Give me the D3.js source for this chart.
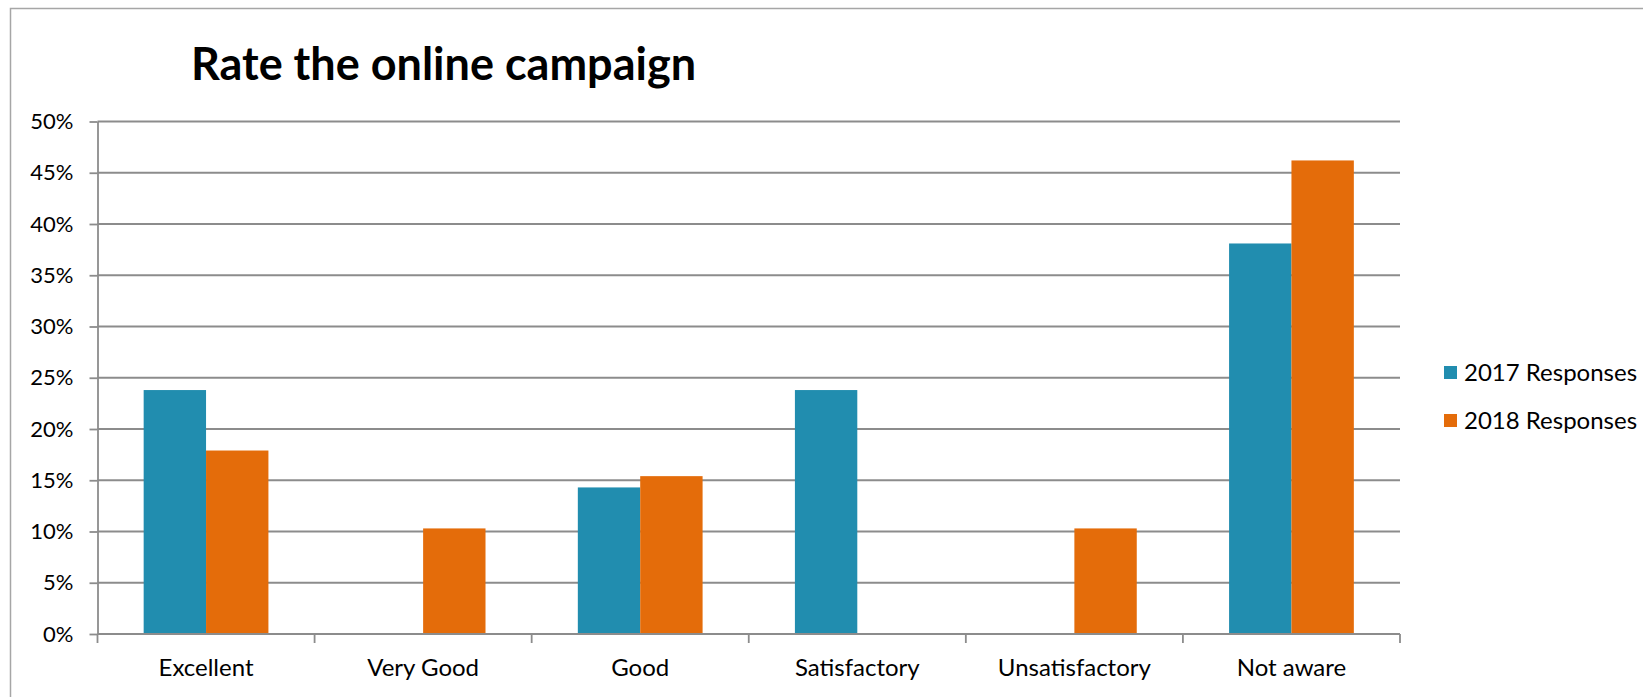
<!DOCTYPE html>
<html>
<head>
<meta charset="utf-8">
<script src="https://cdn.jsdelivr.net/npm/d3@7"></script>
<style>
	html, body { margin: 0; padding: 0; background: #fff; overflow: hidden; }
	svg { display: block; font-family: Lato, "Open Sans", sans-serif; }
</style>
</head>
<body>
<svg id="chart" width="1643" height="697"></svg>
<script>
	// data
	const categories = [ 'Excellent', 'Very Good', 'Good', 'Satisfactory', 'Unsatisfactory', 'Not aware' ];
	const seriesNames = [ '2017 Responses', '2018 Responses' ];
	const responses2017 = [ 0.238, 0, 0.143, 0.238, 0, 0.381 ];
	const responses2018 = [ 0.179, 0.103, 0.154, 0, 0.103, 0.462 ];
	const yTicks = [ 0, 0.05, 0.10, 0.15, 0.20, 0.25, 0.30, 0.35, 0.40, 0.45, 0.50 ];
	const colors = [ '#218daf', '#e46c0a' ];

	let svg = d3.select( '#chart' ),
		plot = { left: 97.5, right: 1400, top: 121.5, bottom: 634 };

	// outer chart frame: only the top and left edges fall inside the picture
	svg.append( 'path' )
		.attr( 'd', 'M10.5,697V8.5H1643' )
		.style( 'fill', 'none' ).style( 'stroke', '#a6a6a6' ).style( 'stroke-width', 1.5 );

	svg.append( 'text' )
		.attr( 'x', 191 ).attr( 'y', 80 )
		.style( 'font-size', '45px' ).style( 'font-weight', 'bold' ).style( 'fill', '#000' )
		.text( 'Rate the online campaign' );

	let x = d3.scaleBand().domain( categories ).range( [ plot.left, plot.right ] ),
		xInner = d3.scaleBand().domain( seriesNames ).range( [ 0, x.bandwidth() ] ).paddingOuter( 0.74 ),
		y = d3.scaleLinear().domain( [ 0, 0.5 ] ).range( [ plot.bottom, plot.top ] );

	// gridlines
	svg.append( 'g' ).selectAll( 'line' ).data( yTicks.slice( 1 ) )
		.enter().append( 'line' )
		.attr( 'x1', plot.left ).attr( 'x2', plot.right )
		.attr( 'y1', d => y( d ) ).attr( 'y2', d => y( d ) )
		.style( 'stroke', '#8c8c8c' ).style( 'stroke-width', 1.8 );

	// bars
	let rows = categories.map( ( c, i ) => ( { cat: c, vals: [ responses2017[ i ], responses2018[ i ] ] } ) );
	let groups = svg.append( 'g' ).selectAll( 'g' ).data( rows )
		.enter().append( 'g' )
		.attr( 'transform', d => 'translate(' + x( d.cat ) + ',0)' );

	groups.selectAll( 'rect' ).data( d => d.vals.map( ( v, i ) => ( { name: seriesNames[ i ], v: v, i: i } ) ) )
		.enter().append( 'rect' )
		.attr( 'x', d => xInner( d.name ) )
		.attr( 'width', xInner.bandwidth() )
		.attr( 'y', d => y( d.v ) )
		.attr( 'height', d => y( 0 ) - y( d.v ) )
		.style( 'fill', d => colors[ d.i ] );

	// y axis
	let yAxis = svg.append( 'g' )
		.attr( 'transform', 'translate(' + plot.left + ',0)' )
		.call( d3.axisLeft( y ).tickValues( yTicks ).tickFormat( d3.format( '.0%' ) ).tickSize( 8 ).tickSizeOuter( 0 ).tickPadding( 16 ) );
	yAxis.select( '.domain' ).style( 'stroke', '#8c8c8c' ).style( 'stroke-width', 1.8 );
	yAxis.selectAll( 'line' ).style( 'stroke', '#8c8c8c' ).style( 'stroke-width', 1.8 );
	yAxis.selectAll( 'text' ).style( 'font-size', '22px' ).style( 'fill', '#000' ).style( 'font-family', 'Lato, sans-serif' );

	// x axis: ticks at category boundaries
	let xAxis = svg.append( 'g' ).attr( 'transform', 'translate(0,' + plot.bottom + ')' );
	xAxis.append( 'line' )
		.attr( 'x1', plot.left ).attr( 'x2', plot.right )
		.style( 'stroke', '#8c8c8c' ).style( 'stroke-width', 1.8 );
	xAxis.selectAll( '.bound' ).data( categories.concat( [ null ] ) )
		.enter().append( 'line' )
		.attr( 'class', 'bound' )
		.attr( 'x1', d => d === null ? plot.right : x( d ) )
		.attr( 'x2', d => d === null ? plot.right : x( d ) )
		.attr( 'y1', 0 ).attr( 'y2', 9 )
		.style( 'stroke', '#8c8c8c' ).style( 'stroke-width', 1.8 );
	xAxis.selectAll( 'text' ).data( categories )
		.enter().append( 'text' )
		.attr( 'x', d => x( d ) + x.bandwidth() / 2 )
		.attr( 'y', 42 )
		.attr( 'text-anchor', 'middle' )
		.style( 'font-size', '24px' ).style( 'fill', '#000' )
		.text( d => d );

	// legend
	let legend = svg.append( 'g' ).selectAll( 'g' ).data( seriesNames )
		.enter().append( 'g' )
		.attr( 'transform', ( d, i ) => 'translate(1444,' + ( 366 + i * 48 ) + ')' );
	legend.append( 'rect' )
		.attr( 'width', 13 ).attr( 'height', 13 )
		.style( 'fill', ( d, i ) => colors[ i ] );
	legend.append( 'text' )
		.attr( 'x', 20 ).attr( 'y', 15 )
		.style( 'font-size', '24px' ).style( 'fill', '#000' )
		.text( d => d );
</script>
</body>
</html>
